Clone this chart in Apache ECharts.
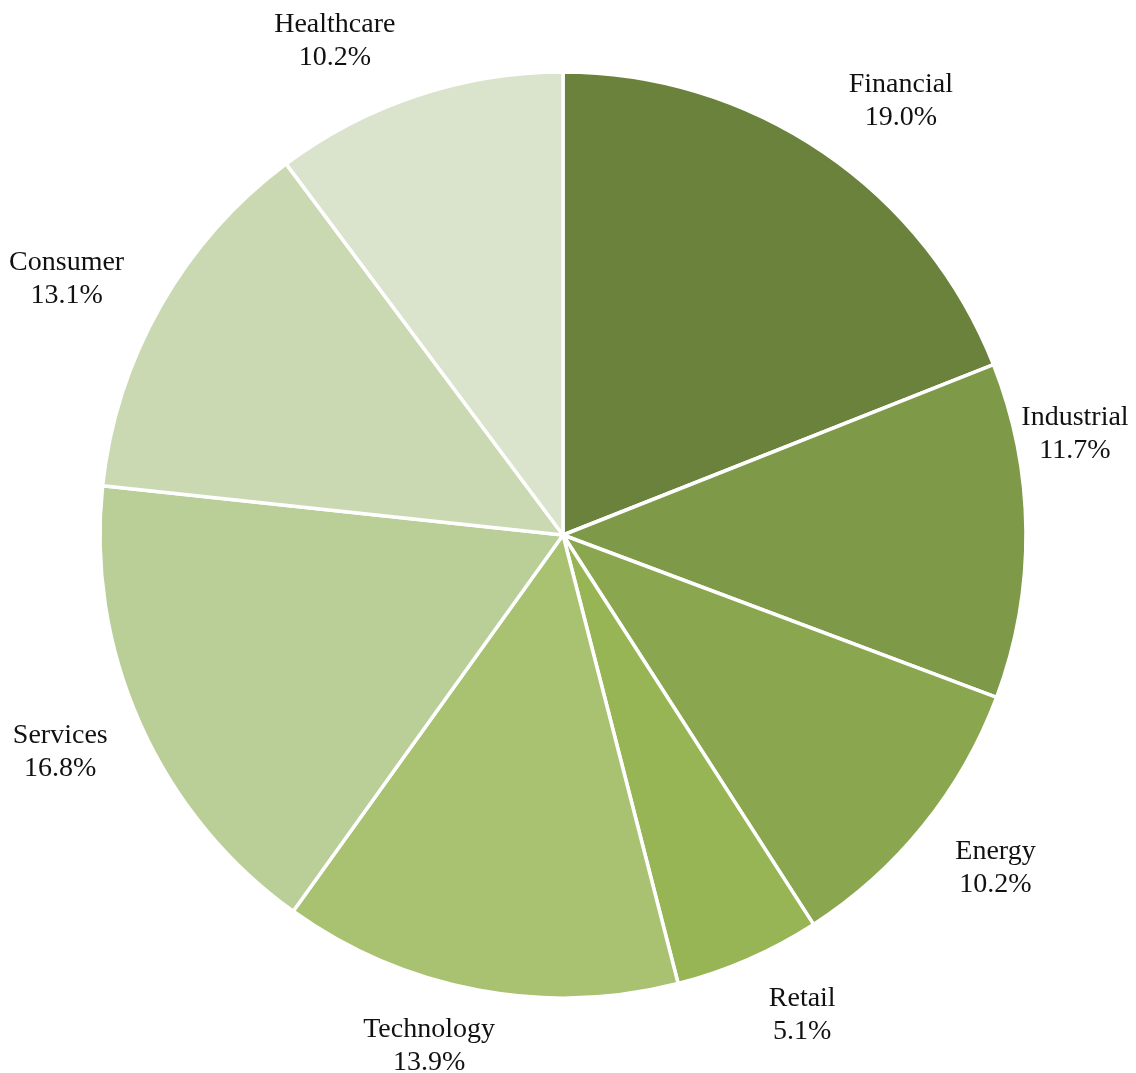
<!DOCTYPE html>
<html>
<head>
<meta charset="utf-8">
<script src="https://cdn.jsdelivr.net/npm/echarts@6/dist/echarts.min.js"></script>
<style>
html,body{margin:0;padding:0;background:#fff;}
#c{width:1136px;height:1073px;}
</style>
</head>
<body>
<div id="c"></div>
<script>
var categories = ['Financial','Industrial','Energy','Retail','Technology','Services','Consumer','Healthcare'];
var shares = [19.0, 11.7, 10.2, 5.1, 13.9, 16.8, 13.1, 10.2];
var sliceColors = ['#6B823D','#7E9947','#8AA64F','#98B556','#A8C272','#BACE98','#CBD9B3','#DAE3CC'];
// small label nudges (px) relative to the radial label anchor
var labelNudgeX = [27, -41, 2, 18, -32, 2, -16, -54];
var labelNudgeY = [24, -96, -14, -27, -32, -9, 18, 31];

var chart = echarts.init(document.getElementById('c'), null, {renderer:'canvas'});
var slices = categories.map(function(n,i){
  return {name:n, value:shares[i], itemStyle:{color:sliceColors[i]}};
});
var fontFam = '"Palatino Linotype","Book Antiqua",Palatino,"Liberation Serif",serif';
chart.setOption({
  animation:false,
  backgroundColor:'#ffffff',
  series:[
    {
      type:'pie',
      center:[563,535],
      radius:[0,463],
      startAngle:90,
      clockwise:true,
      silent:true,
      data:slices,
      itemStyle:{borderColor:'#ffffff',borderWidth:3.5},
      label:{show:false},
      labelLine:{show:false}
    },
    {
      type:'pie',
      center:[563,535],
      radius:[463,637],
      startAngle:90,
      clockwise:true,
      silent:true,
      percentPrecision:1,
      data:categories.map(function(n,i){return {name:n,value:shares[i]};}),
      itemStyle:{color:'rgba(0,0,0,0)',borderWidth:0},
      label:{
        show:true,
        position:'inside',
        formatter:function(p){return p.name+'\n'+p.value.toFixed(1)+'%';},
        fontFamily:fontFam,
        fontSize:28,
        lineHeight:33,
        color:'#111111',
        align:'center'
      },
      labelLine:{show:false},
      labelLayout:function(p){
        return {dx:labelNudgeX[p.dataIndex], dy:labelNudgeY[p.dataIndex]};
      }
    }
  ]
});
</script>
</body>
</html>
